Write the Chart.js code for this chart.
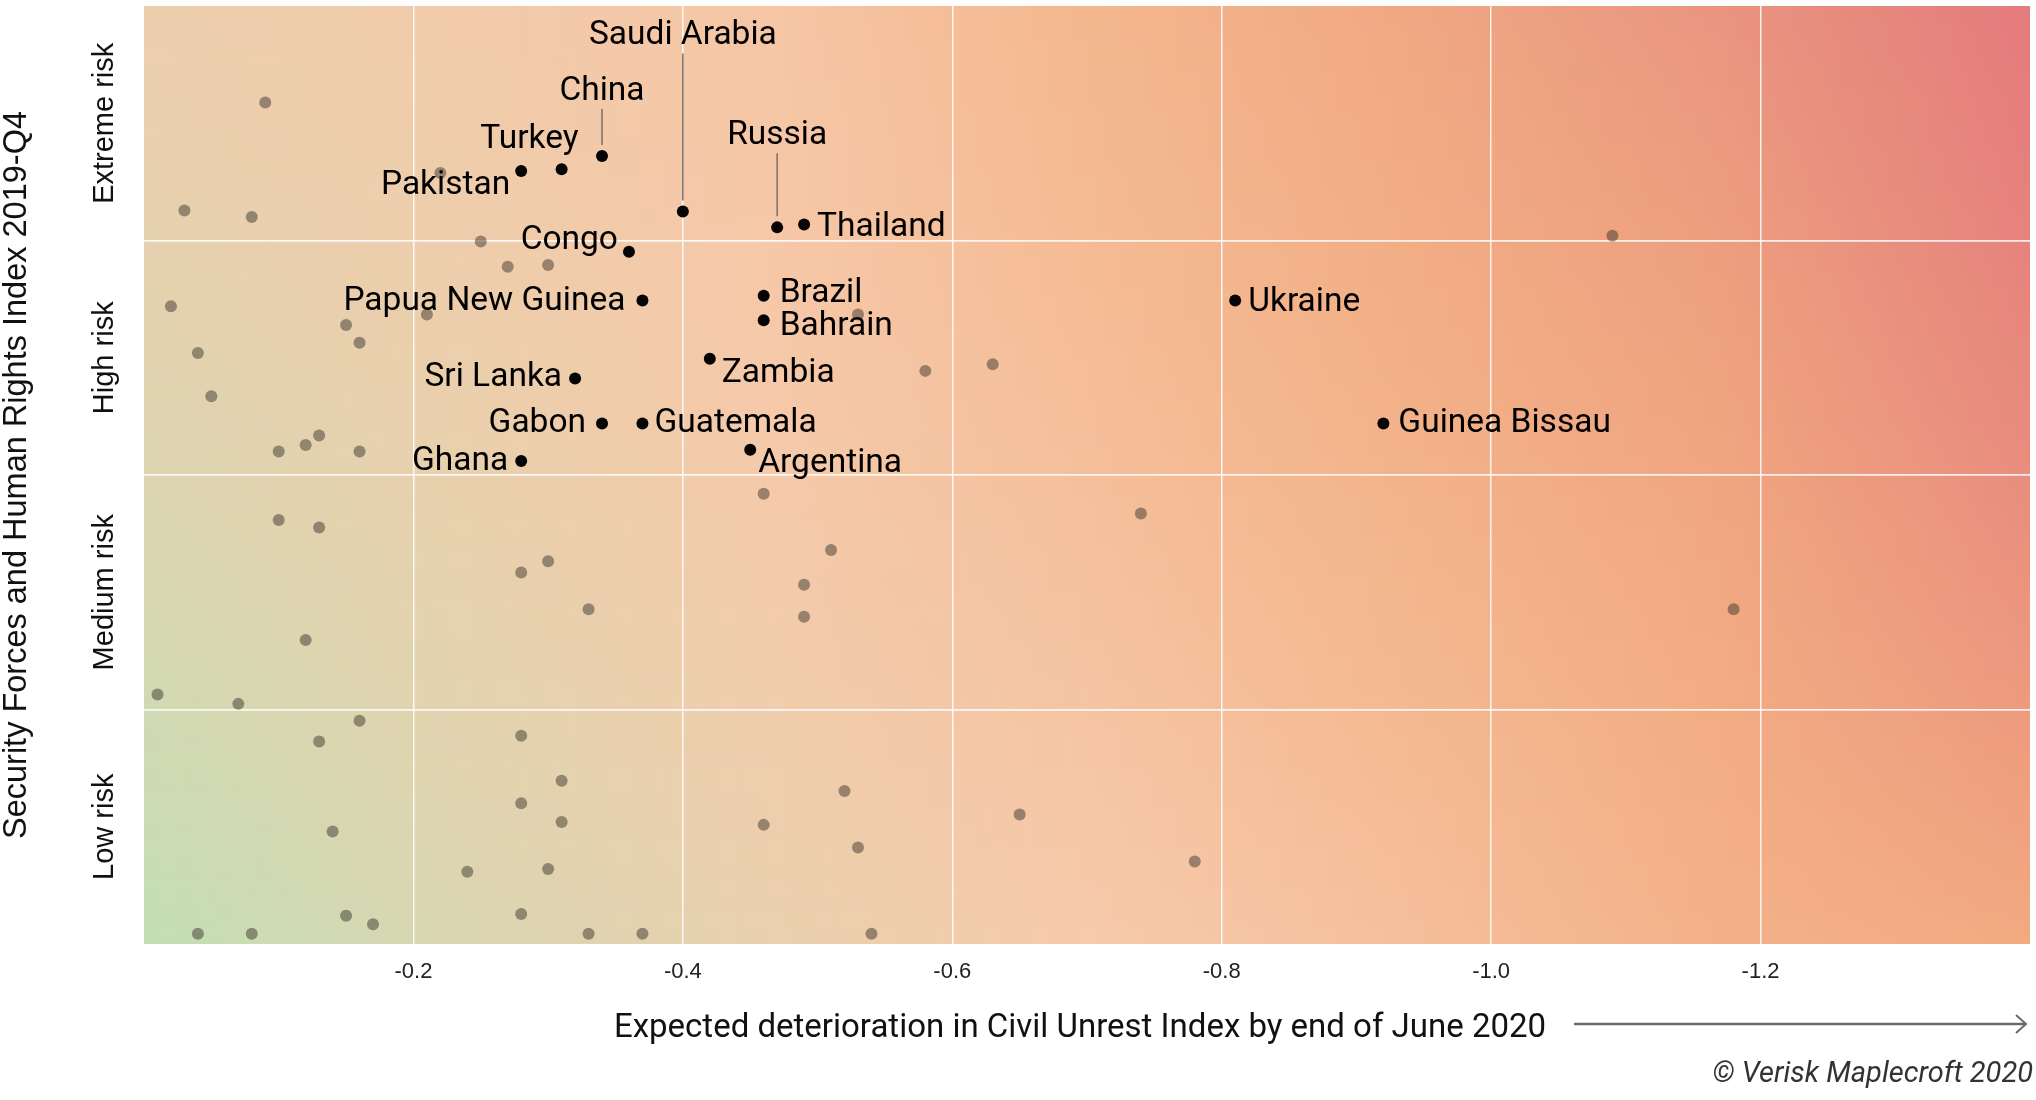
<!DOCTYPE html>
<html>
<head>
<meta charset="utf-8">
<title>Civil unrest vs security forces</title>
<script src="https://cdn.jsdelivr.net/npm/chart.js@4.4.1/dist/chart.umd.min.js"></script>
<style>
  html, body { margin: 0; padding: 0; background: #fff; }
  #wrap { width: 2036px; height: 1100px; }
</style>
</head>
<body>
<div id="wrap"><canvas id="myChart" width="2036" height="1100"></canvas></div>
<script>
// highlighted countries
const countries = ['Pakistan', 'Turkey', 'China', 'Saudi Arabia', 'Russia', 'Thailand', 'Congo',
  'Papua New Guinea', 'Brazil', 'Bahrain', 'Ukraine', 'Zambia', 'Sri Lanka', 'Gabon',
  'Guatemala', 'Guinea Bissau', 'Ghana', 'Argentina'];
const countryUnrest = [-0.28, -0.31, -0.34, -0.40, -0.47, -0.49, -0.36,
  -0.37, -0.46, -0.46, -0.81, -0.42, -0.32, -0.34,
  -0.37, -0.92, -0.28, -0.45];
const countrySecurity = [1.76, 1.74, 1.60, 2.19, 2.36, 2.33, 2.62,
  3.14, 3.09, 3.35, 3.14, 3.76, 3.97, 4.45,
  4.45, 4.45, 4.85, 4.73];

// all other countries (unlabelled)
const otherUnrest = [-0.09, -0.03, -0.08, -0.22, -0.25, -0.27, -0.30, -0.02, -0.15, -0.21,
  -0.16, -0.04, -0.05, -0.13, -0.12, -0.10, -0.16, -0.53, -0.58, -0.63,
  -1.09, -0.46, -0.74, -0.51, -0.49, -0.49, -1.18, -0.10, -0.13, -0.30,
  -0.28, -0.33, -0.12, -0.01, -0.07, -0.16, -0.13, -0.28, -0.31, -0.28,
  -0.31, -0.14, -0.24, -0.30, -0.52, -0.46, -0.65, -0.53, -0.78, -0.15,
  -0.17, -0.28, -0.04, -0.08, -0.33, -0.37, -0.54];
const otherSecurity = [1.03, 2.18, 2.25, 1.78, 2.51, 2.78, 2.76, 3.20, 3.40, 3.29,
  3.59, 3.70, 4.16, 4.58, 4.68, 4.75, 4.75, 3.29, 3.89, 3.82,
  2.45, 5.20, 5.41, 5.80, 6.17, 6.51, 6.43, 5.48, 5.56, 5.92,
  6.04, 6.43, 6.76, 7.34, 7.44, 7.62, 7.84, 7.78, 8.26, 8.50,
  8.70, 8.80, 9.23, 9.20, 8.37, 8.73, 8.62, 8.97, 9.12, 9.70,
  9.79, 9.68, 9.89, 9.89, 9.89, 9.89, 9.89];

const xTicks = [-0.2, -0.4, -0.6, -0.8, -1.0, -1.2];
const riskBands = ['Extreme risk', 'High risk', 'Medium risk', 'Low risk'];
const bandEdges = [0, 2.5, 5, 7.5, 10];

// where each label sits next to its point: [side, dx, dy(baseline)]
const labelPlacement = {
  'Pakistan': ['left', -11, 23],
  'Turkey': ['left', 17, -21],
  'China': ['above', 0, -56],
  'Saudi Arabia': ['above', 0, -167],
  'Russia': ['above', 0, -83],
  'Thailand': ['right', 13, 11],
  'Congo': ['left', -11, -3],
  'Papua New Guinea': ['left', -17, 9],
  'Brazil': ['right', 16, 6],
  'Bahrain': ['right', 16, 15],
  'Ukraine': ['right', 13, 10],
  'Zambia': ['right', 12, 23],
  'Sri Lanka': ['left', -13, 8],
  'Gabon': ['left', -16, 9],
  'Guatemala': ['right', 12, 9],
  'Guinea Bissau': ['right', 15, 9],
  'Ghana': ['left', -13, 9],
  'Argentina': ['right', 8, 22]
};

// background colour mesh (7 columns, top / middle / bottom rows)
const bgTop = ['#ecceae', '#f1cbab', '#f6c6a5', '#f4b78e', '#f0a883', '#e99580', '#e47b7c'];
const bgMid = ['#dcd5b0', '#e9d0ad', '#f4caaa', '#f5bf9b', '#f3b38a', '#f0a680', '#e98d7e'];
const bgBot = ['#c3dfb4', '#dad6b1', '#e9d0ae', '#f6caab', '#f5bf9c', '#f3b189', '#f2aa80'];

const gridWhite = 'rgba(255,255,255,0.85)';

function hexRgb(h) {
  return [parseInt(h.slice(1, 3), 16), parseInt(h.slice(3, 5), 16), parseInt(h.slice(5, 7), 16)];
}

const backdrop = {
  id: 'backdrop',
  beforeDraw(chart) {
    const {ctx, chartArea: a} = chart;
    ctx.save();
    ctx.fillStyle = '#fff';
    ctx.fillRect(0, 0, chart.width, chart.height);
    const top = bgTop.map(hexRgb), mid = bgMid.map(hexRgb), bot = bgBot.map(hexRgb);
    const h = a.bottom - a.top;
    for (let y = Math.floor(a.top); y < Math.ceil(a.bottom); y++) {
      const v = (y + 0.5 - a.top) / h;
      const g = ctx.createLinearGradient(a.left, 0, a.right, 0);
      top.forEach((t, k) => {
        const c = [0, 1, 2].map(j => {
          const ctrl = 2 * mid[k][j] - (t[j] + bot[k][j]) / 2;
          return Math.round(t[j] * (1 - v) * (1 - v) + 2 * ctrl * (1 - v) * v + bot[k][j] * v * v);
        });
        g.addColorStop(k / (top.length - 1), 'rgb(' + c.join(',') + ')');
      });
      ctx.fillStyle = g;
      ctx.fillRect(a.left, y, a.right - a.left, 1);
    }
    ctx.restore();
  }
};

const annotations = {
  id: 'annotations',
  afterDatasetsDraw(chart) {
    const {ctx} = chart;
    const xs = chart.scales.x, ys = chart.scales.y;
    ctx.save();

    // country labels
    ctx.font = '33.5px Roboto';
    ctx.fillStyle = '#000';
    ctx.textBaseline = 'alphabetic';
    countries.forEach((name, i) => {
      const px = xs.getPixelForValue(countryUnrest[i]);
      const py = ys.getPixelForValue(countrySecurity[i]);
      const [side, dx, dy] = labelPlacement[name];
      if (side === 'above') {
        ctx.strokeStyle = '#7a6f66';
        ctx.lineWidth = 1.5;
        ctx.beginPath();
        ctx.moveTo(px, py + dy + 9);
        ctx.lineTo(px, py - 11);
        ctx.stroke();
        ctx.textAlign = 'center';
      } else {
        ctx.textAlign = side === 'left' ? 'right' : 'left';
      }
      ctx.fillText(name, px + dx, py + dy);
    });

    // risk band labels
    ctx.font = '29px "Liberation Sans", Arial';
    ctx.fillStyle = '#111';
    ctx.textAlign = 'center';
    riskBands.forEach((label, i) => {
      const mid = (bandEdges[i] + bandEdges[i + 1]) / 2;
      const py = ys.getPixelForValue(mid);
      ctx.save();
      ctx.translate(113, py);
      ctx.rotate(-Math.PI / 2);
      ctx.fillText(label, 0, 0);
      ctx.restore();
    });

    // x axis title + arrow
    ctx.font = '33px Roboto';
    ctx.fillStyle = '#111';
    ctx.textAlign = 'center';
    ctx.fillText('Expected deterioration in Civil Unrest Index by end of June 2020', 1080, 1037);

    ctx.strokeStyle = '#6b6b6b';
    ctx.lineWidth = 2.5;
    ctx.beginPath();
    ctx.moveTo(1574, 1024);
    ctx.lineTo(2025, 1024);
    ctx.stroke();
    ctx.lineWidth = 2;
    ctx.beginPath();
    ctx.moveTo(2016, 1015);
    ctx.lineTo(2026, 1024);
    ctx.lineTo(2016, 1033);
    ctx.stroke();

    ctx.font = 'italic 29px Roboto';
    ctx.fillStyle = '#333';
    ctx.textAlign = 'right';
    ctx.fillText('\u00A9 Verisk Maplecroft 2020', 2033, 1082);
    ctx.restore();
  }
};

const ctx = document.getElementById('myChart').getContext('2d');

const data = {
  datasets: [
    {
      label: 'Highlighted',
      data: countries.map((c, i) => ({x: countryUnrest[i], y: countrySecurity[i]})),
      backgroundColor: '#050505',
      borderWidth: 0,
      pointRadius: 6,
      pointHoverRadius: 6
    },
    {
      label: 'Other',
      data: otherUnrest.map((v, i) => ({x: v, y: otherSecurity[i]})),
      backgroundColor: 'rgba(62,56,48,0.5)',
      borderWidth: 0,
      pointRadius: 6,
      pointHoverRadius: 6
    }
  ]
};

const config = {
  type: 'scatter',
  data: data,
  options: {
    responsive: false,
    animation: false,
    devicePixelRatio: 1,
    layout: { padding: { top: 2, right: 5, left: 0, bottom: 0 } },
    plugins: {
      legend: { display: false },
      tooltip: { enabled: false }
    },
    scales: {
      x: {
        type: 'linear',
        reverse: true,
        min: -1.4,
        max: 0,
        afterBuildTicks: (scale) => {
          scale.ticks = [-1.4].concat(xTicks.slice().reverse(), [0]).map(v => ({value: v}));
        },
        afterFit: (scale) => { scale.height = 156; },
        border: { display: false },
        grid: {
          drawTicks: false,
          lineWidth: 1.5,
          color: (c) => (c.tick && xTicks.includes(c.tick.value)) ? gridWhite : 'rgba(0,0,0,0)'
        },
        ticks: {
          autoSkip: false,
          maxRotation: 0,
          padding: 15,
          color: '#222',
          font: { family: '"Liberation Sans", Arial', size: 22 },
          callback: (value) => xTicks.includes(value) ? value.toFixed(1) : ''
        }
      },
      y: {
        type: 'linear',
        reverse: true,
        min: 0,
        max: 10,
        afterBuildTicks: (scale) => {
          scale.ticks = bandEdges.map(v => ({value: v}));
        },
        afterFit: (scale) => { scale.width = 144; },
        border: { display: false },
        grid: {
          drawTicks: false,
          lineWidth: 1.8,
          color: (c) => (c.tick && c.tick.value > 0 && c.tick.value < 10) ? gridWhite : 'rgba(0,0,0,0)'
        },
        ticks: { display: false },
        title: {
          display: true,
          text: 'Security Forces and Human Rights Index 2019-Q4',
          color: '#111',
          padding: 0,
          font: { family: '"Liberation Sans", Arial', size: 32.5, lineHeight: 1.05 }
        }
      }
    }
  },
  plugins: [backdrop, annotations]
};

const myChart = new Chart(ctx, config);
</script>
</body>
</html>
